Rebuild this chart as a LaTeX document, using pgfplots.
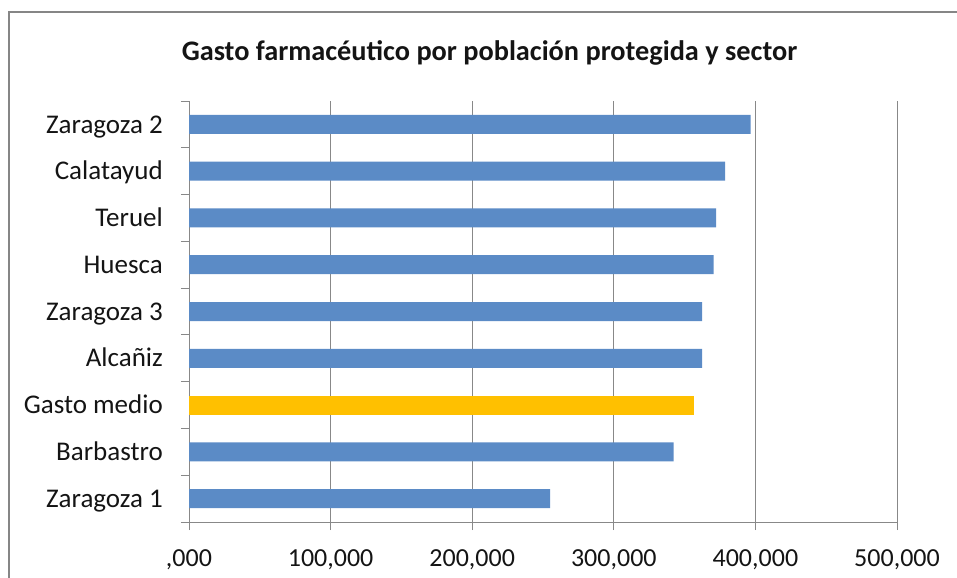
\documentclass[border=0pt]{standalone}
\usepackage{fontspec}
\setmainfont{Carlito}
\usepackage{pgfplots}
\pgfplotsset{compat=1.18}

\definecolor{barblue}{RGB}{91,139,198}
\definecolor{bargold}{RGB}{255,192,0}
\definecolor{gridgray}{RGB}{136,136,136}
\definecolor{framegray}{RGB}{134,134,134}
\definecolor{txt}{RGB}{20,20,20}

\begin{document}
\begin{tikzpicture}
\useasboundingbox (0,0) rectangle (957bp,-578bp);
\draw[framegray, line width=1.8bp] (9bp,-12bp) rectangle (980bp,-600bp);
\node[font=\fontsize{28.3bp}{32bp}\selectfont\bfseries, text=txt, anchor=base, inner sep=0pt]
  at (489.5bp,-60bp) {Gasto farmacéutico por población protegida y sector};
\begin{axis}[
    at={(189bp,-522bp)}, anchor=south west,
    width=708bp, height=421bp, scale only axis,
    xbar, bar width=19bp, bar shift=0pt,
    xmin=0, xmax=500000,
    ymin=-0.5, ymax=8.5,
    axis lines*=left,
    axis line style={gridgray, line width=0.9bp},
    tick align=outside,
    major tick length=8bp,
    tick style={gridgray, line width=0.9bp},
    xtick={0,100000,200000,300000,400000,500000},
    xticklabels={{,000},{100,000},{200,000},{300,000},{400,000},{500,000}},
    scaled x ticks=false,
    xmajorgrids=true,
    grid style={gridgray, line width=0.9bp},
    ytick={-0.5,0.5,...,8.5},
    yticklabels={},
    extra y ticks={0,1,2,3,4,5,6,7,8},
    extra y tick labels={Zaragoza 1,Barbastro,Gasto medio,Alcañiz,Zaragoza 3,Huesca,Teruel,Calatayud,Zaragoza 2},
    extra y tick style={tick style={draw=none}},
    ticklabel style={text=txt, inner sep=0pt},
    xticklabel style={font=\fontsize{26bp}{30bp}\selectfont, anchor=base, yshift=-36bp},
    yticklabel style={font=\fontsize{27bp}{31bp}\selectfont, anchor=base east, xshift=-18bp, yshift=-8.7bp},
]
\addplot[fill=barblue, draw=none] coordinates {
    (255100,0) (342300,1) (362300,3) (362300,4) (370500,5) (372200,6) (378600,7) (396700,8)
};
\addplot[fill=bargold, draw=none] coordinates {
    (356900,2)
};
\end{axis}
\end{tikzpicture}
\end{document}
